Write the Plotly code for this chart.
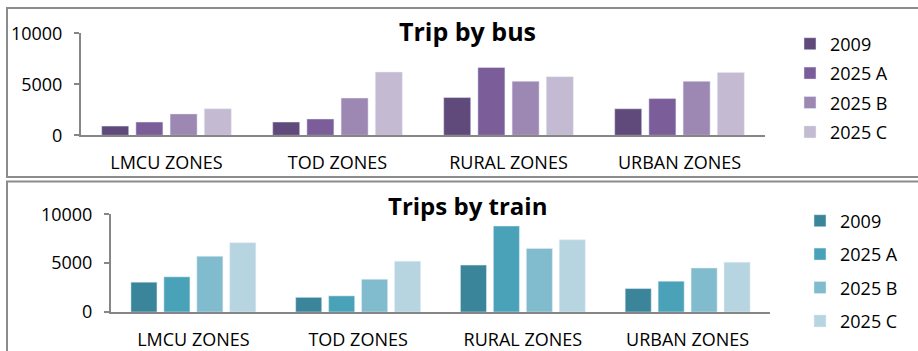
import plotly.graph_objects as go

W, H = 918, 351

zones = ["LMCU ZONES", "TOD ZONES", "RURAL ZONES", "URBAN ZONES"]
series_names = ["2009", "2025 A", "2025 B", "2025 C"]

bus_2009 = [900, 1300, 3700, 2600]
bus_2025a = [1300, 1600, 6650, 3600]
bus_2025b = [2100, 3650, 5300, 5300]
bus_2025c = [2600, 6200, 5750, 6150]

train_2009 = [3050, 1500, 4800, 2400]
train_2025a = [3600, 1650, 8800, 3150]
train_2025b = [5700, 3350, 6500, 4500]
train_2025c = [7100, 5200, 7400, 5100]

y_ticks = [0, 5000, 10000]

bus_colors = ["#604A7B", "#7A5D99", "#9C88B3", "#C4BAD2"]
train_colors = ["#3A8599", "#4AA2B9", "#80BBCE", "#B7D5E1"]

FONT = "Open Sans"


def px_x(p):
    return p / W


def px_y(p):
    return 1 - p / H


fig = go.Figure()

bus_series = [bus_2009, bus_2025a, bus_2025b, bus_2025c]
train_series = [train_2009, train_2025a, train_2025b, train_2025c]

for name, vals, col in zip(series_names, bus_series, bus_colors):
    fig.add_trace(go.Bar(x=zones, y=vals, name=name, marker_color=col,
                         xaxis="x", yaxis="y", legend="legend",
                         legendgroup="b" + name))
for name, vals, col in zip(series_names, train_series, train_colors):
    fig.add_trace(go.Bar(x=zones, y=vals, name=name, marker_color=col,
                         xaxis="x2", yaxis="y2", legend="legend2",
                         legendgroup="t" + name))

axis_gray = "#868686"
common_x = dict(showgrid=False, showline=True, linecolor=axis_gray, linewidth=2,
                ticks="outside", ticklen=10, tickcolor="rgba(0,0,0,0)",
                tickfont=dict(family=FONT, size=18, color="#000"),
                fixedrange=True, automargin=False)
common_y = dict(showgrid=False, showline=True, linecolor=axis_gray, linewidth=2,
                ticks="outside", ticklen=5, tickcolor=axis_gray, tickwidth=2,
                ticklabelstandoff=8,
                range=[0, 10000], tickvals=y_ticks,
                ticktext=[str(v) for v in y_ticks],
                tickfont=dict(family=FONT, size=18, color="#000"),
                zeroline=False, fixedrange=True, automargin=False)

legend_font = dict(family=FONT, size=18, color="#000")

fig.update_layout(
    width=W, height=H,
    margin=dict(l=0, r=0, t=0, b=0, autoexpand=False),
    paper_bgcolor="white", plot_bgcolor="white",
    barmode="group", bargap=0.2, bargroupgap=0.21,
    xaxis=dict(domain=[px_x(81), px_x(765)], anchor="y", **common_x),
    yaxis=dict(domain=[px_y(135.3), px_y(33.3)], anchor="x", **common_y),
    xaxis2=dict(domain=[px_x(111), px_x(770)], anchor="y2", **common_x),
    yaxis2=dict(domain=[px_y(312), px_y(214.3)], anchor="x2", **common_y),
    legend=dict(x=px_x(790), y=px_y(88), font=legend_font,
                bgcolor="rgba(0,0,0,0)", tracegroupgap=3,
                xanchor="left", yanchor="middle", traceorder="grouped"),
    legend2=dict(x=px_x(800), y=px_y(271), font=legend_font,
                 bgcolor="rgba(0,0,0,0)", tracegroupgap=7,
                 xanchor="left", yanchor="middle", traceorder="grouped"),
    showlegend=True,
)

# chart titles
fig.add_annotation(text="<b>Trip by bus</b>", x=px_x(467), y=px_y(30.5),
                   xref="paper", yref="paper", xanchor="center",
                   yanchor="middle", showarrow=False,
                   font=dict(family=FONT, size=25, color="#000"))
fig.add_annotation(text="<b>Trips by train</b>", x=px_x(467), y=px_y(206),
                   xref="paper", yref="paper", xanchor="center",
                   yanchor="middle", showarrow=False,
                   font=dict(family=FONT, size=24, color="#000"))

# panel frames
frame = dict(type="rect", xref="paper", yref="paper",
             line=dict(color="#8C8C8C", width=2), fillcolor="rgba(0,0,0,0)")
fig.add_shape(x0=px_x(7), x1=px_x(925), y0=px_y(177), y1=px_y(8), **frame)
fig.add_shape(x0=px_x(7), x1=px_x(925), y0=px_y(360), y1=px_y(181.5), **frame)

fig.write_html("out.html")
